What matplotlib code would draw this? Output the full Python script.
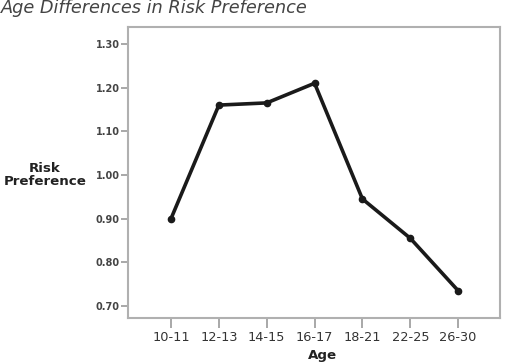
import numpy as np
import matplotlib.pyplot as plt

# DATA
ages = ['10-11', '12-13', '14-15', '16-17', '18-21', '22-25', '26-30']
risk = [0.90, 1.16, 1.165, 1.21, 0.945, 0.855, 0.735]
yticks = [0.70, 0.80, 0.90, 1.00, 1.10, 1.20, 1.30]

fig = plt.figure(figsize=(5.31, 3.64), dpi=100)
ax = fig.add_axes([0.241, 0.126, 0.701, 0.800])

x = np.arange(len(ages))
ax.plot(x, risk, color='#1a1a1a', lw=2.6, marker='o', ms=4.5,
        solid_joinstyle='round', solid_capstyle='round')

ax.set_xlim(-0.9, 6.88)
ax.set_ylim(0.672, 1.339)

ax.set_xticks(x)
ax.set_xticklabels(ages, fontsize=9.3, color='#333333')
ax.set_yticks(yticks)
ax.set_yticklabels(['%.2f' % v for v in yticks], fontsize=7,
                   fontweight='bold', color='#444444')

for s in ax.spines.values():
    s.set_color('#b0b0b0')
    s.set_linewidth(1.5)
ax.tick_params(axis='y', length=5, width=1.2, color='#999999', pad=1)
ax.tick_params(axis='x', length=7, width=1.2, color='#999999', pad=2)

fig.text(45/531, 1 - 175/364, 'Risk\nPreference', ha='center', va='center',
         fontsize=9.6, fontweight='bold', color='#222222', linespacing=0.95)
fig.text(322/531, 1 - 356/364, 'Age', ha='center', va='center',
         fontsize=9.6, fontweight='bold', color='#222222')
fig.text(1/531, 1 - 8/364, 'Age Differences in Risk Preference',
         ha='left', va='center', fontsize=12.8, style='italic',
         color='#444444')

fig.savefig('out.png', dpi=100)
